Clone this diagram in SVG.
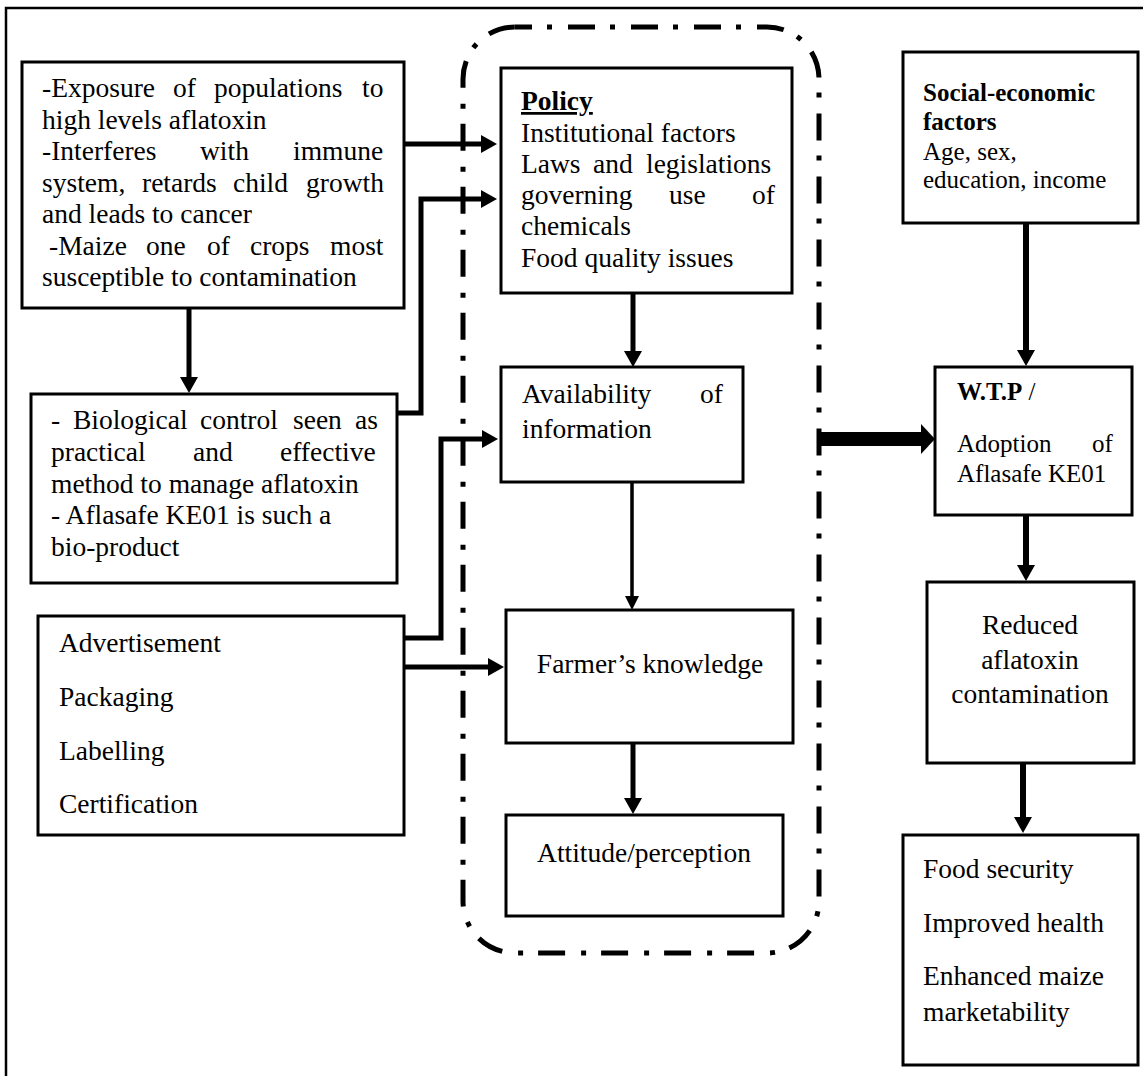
<svg xmlns="http://www.w3.org/2000/svg" width="1143" height="1076" viewBox="0 0 1143 1076">
<style>
  .box { fill: #fff; stroke: #000; stroke-width: 3; }
  .t { font-family: "Liberation Serif", "Times New Roman", serif; font-size: 27.5px; fill: #000; }
  .s { font-family: "Liberation Serif", "Times New Roman", serif; font-size: 25px; fill: #000; }
  .b { font-weight: bold; }
  .c { text-anchor: middle; }
  .con { fill: none; stroke: #000; stroke-width: 5; stroke-linejoin: miter; }
</style>
<defs>
  <marker id="ah" viewBox="0 0 16 18" refX="0" refY="9" markerWidth="16" markerHeight="18" markerUnits="userSpaceOnUse" orient="auto">
    <path d="M0,0 L16,9 L0,18 z" fill="#000"/>
  </marker>
  <marker id="ahs" viewBox="0 0 14 14" refX="0" refY="7" markerWidth="14" markerHeight="14" markerUnits="userSpaceOnUse" orient="auto">
    <path d="M0,0 L14,7 L0,14 z" fill="#000"/>
  </marker>
</defs>
<rect width="1143" height="1076" fill="#fff"/>
<rect x="6" y="8" width="1160" height="1100" fill="none" stroke="#000" stroke-width="2.5"/>

<g id="group-boundary">
  <rect x="463" y="27" width="356" height="926" rx="52" ry="52" fill="none" stroke="#000" stroke-width="5" stroke-dasharray="27 15 5 16" stroke-dashoffset="10"/>
</g>

<g id="connectors">
  <path class="con" d="M404,144 L481,144" marker-end="url(#ah)"/>
  <path class="con" d="M189,308 L189,377" marker-end="url(#ah)"/>
  <path class="con" d="M397,413 L421,413 L421,199 L481,199" marker-end="url(#ah)"/>
  <path class="con" d="M404,638 L441,638 L441,439 L482,439" marker-end="url(#ah)"/>
  <path class="con" d="M404,667 L488,667" marker-end="url(#ah)"/>
  <path class="con" d="M633,293 L633,351" marker-end="url(#ah)"/>
  <path class="con" style="stroke-width:3.5" d="M632,482 L632,596" marker-end="url(#ahs)"/>
  <path class="con" d="M633,743 L633,798" marker-end="url(#ah)"/>
  <path class="con" style="stroke-width:14" d="M817,439 L922,439"/>
  <path d="M921,424 L935,439 L921,454 z" fill="#000"/>
  <path class="con" style="stroke-width:6" d="M1026,223 L1026,350" marker-end="url(#ah)"/>
  <path class="con" style="stroke-width:6" d="M1026,515 L1026,565" marker-end="url(#ah)"/>
  <path class="con" style="stroke-width:6" d="M1023,763 L1023,817" marker-end="url(#ah)"/>
</g>

<g id="node-exposure">
  <rect class="box" x="22" y="62" width="382" height="246"/>
  <text class="t" y="97"><tspan x="42">-Exposure</tspan><tspan x="173">of</tspan><tspan x="214">populations</tspan><tspan x="362">to</tspan></text>
  <text class="t" x="42" y="128.5">high levels aflatoxin</text>
  <text class="t" y="160"><tspan x="42">-Interferes</tspan><tspan x="200">with</tspan><tspan x="293">immune</tspan></text>
  <text class="t" y="191.5"><tspan x="42">system,</tspan><tspan x="142">retards</tspan><tspan x="233">child</tspan><tspan x="306">growth</tspan></text>
  <text class="t" x="42" y="223">and leads to cancer</text>
  <text class="t" y="254.5"><tspan x="49">-Maize</tspan><tspan x="146">one</tspan><tspan x="207">of</tspan><tspan x="250">crops</tspan><tspan x="330">most</tspan></text>
  <text class="t" x="42" y="286">susceptible to contamination</text>
</g>

<g id="node-biocontrol">
  <rect class="box" x="31" y="394" width="366" height="189"/>
  <text class="t" y="429"><tspan x="51">-</tspan><tspan x="73">Biological</tspan><tspan x="200">control</tspan><tspan x="293">seen</tspan><tspan x="355">as</tspan></text>
  <text class="t" y="461"><tspan x="51">practical</tspan><tspan x="193">and</tspan><tspan x="280">effective</tspan></text>
  <text class="t" x="51" y="493">method to manage aflatoxin</text>
  <text class="t" x="51" y="524">- Aflasafe KE01 is such a</text>
  <text class="t" x="51" y="556">bio-product</text>
</g>

<g id="node-marketing">
  <rect class="box" x="38" y="616" width="366" height="219"/>
  <text class="t" x="59" y="652">Advertisement</text>
  <text class="t" x="59" y="706">Packaging</text>
  <text class="t" x="59" y="760">Labelling</text>
  <text class="t" x="59" y="813">Certification</text>
</g>

<g id="node-policy">
  <rect class="box" x="501" y="68" width="291" height="225"/>
  <text class="t b" x="521" y="110" text-decoration="underline">Policy</text>
  <text class="t" x="521" y="142">Institutional factors</text>
  <text class="t" y="173"><tspan x="521">Laws</tspan><tspan x="593">and</tspan><tspan x="646">legislations</tspan></text>
  <text class="t" y="204"><tspan x="521">governing</tspan><tspan x="669">use</tspan><tspan x="752">of</tspan></text>
  <text class="t" x="521" y="235">chemicals</text>
  <text class="t" x="521" y="267">Food quality issues</text>
</g>

<g id="node-availability">
  <rect class="box" x="501" y="367" width="242" height="115"/>
  <text class="t" y="403"><tspan x="522">Availability</tspan><tspan x="700">of</tspan></text>
  <text class="t" x="522" y="438">information</text>
</g>

<g id="node-knowledge">
  <rect class="box" x="506" y="610" width="287" height="133"/>
  <text class="t c" x="650" y="673">Farmer’s knowledge</text>
</g>

<g id="node-attitude">
  <rect class="box" x="506" y="815" width="277" height="101"/>
  <text class="t c" x="644" y="862">Attitude/perception</text>
</g>

<g id="node-socioeconomic">
  <rect class="box" x="903" y="52" width="235" height="171"/>
  <text class="s b" x="923" y="101">Social-economic</text>
  <text class="s b" x="923" y="130">factors</text>
  <text class="s" x="923" y="160">Age, sex,</text>
  <text class="s" x="923" y="188">education, income</text>
</g>

<g id="node-wtp">
  <rect class="box" x="935" y="367" width="197" height="148"/>
  <text class="s" x="957" y="400"><tspan class="b">W.T.P</tspan> /</text>
  <text class="s" y="452"><tspan x="957">Adoption</tspan><tspan x="1092">of</tspan></text>
  <text class="s" x="957" y="482">Aflasafe KE01</text>
</g>

<g id="node-reduced">
  <rect class="box" x="927" y="582" width="207" height="181"/>
  <text class="t c" x="1030" y="634">Reduced</text>
  <text class="t c" x="1030" y="669">aflatoxin</text>
  <text class="t c" x="1030" y="703">contamination</text>
</g>

<g id="node-outcomes">
  <rect class="box" x="903" y="835" width="235" height="230"/>
  <text class="t" x="923" y="878">Food security</text>
  <text class="t" x="923" y="932">Improved health</text>
  <text class="t" x="923" y="985">Enhanced maize</text>
  <text class="t" x="923" y="1021">marketability</text>
</g>
</svg>
